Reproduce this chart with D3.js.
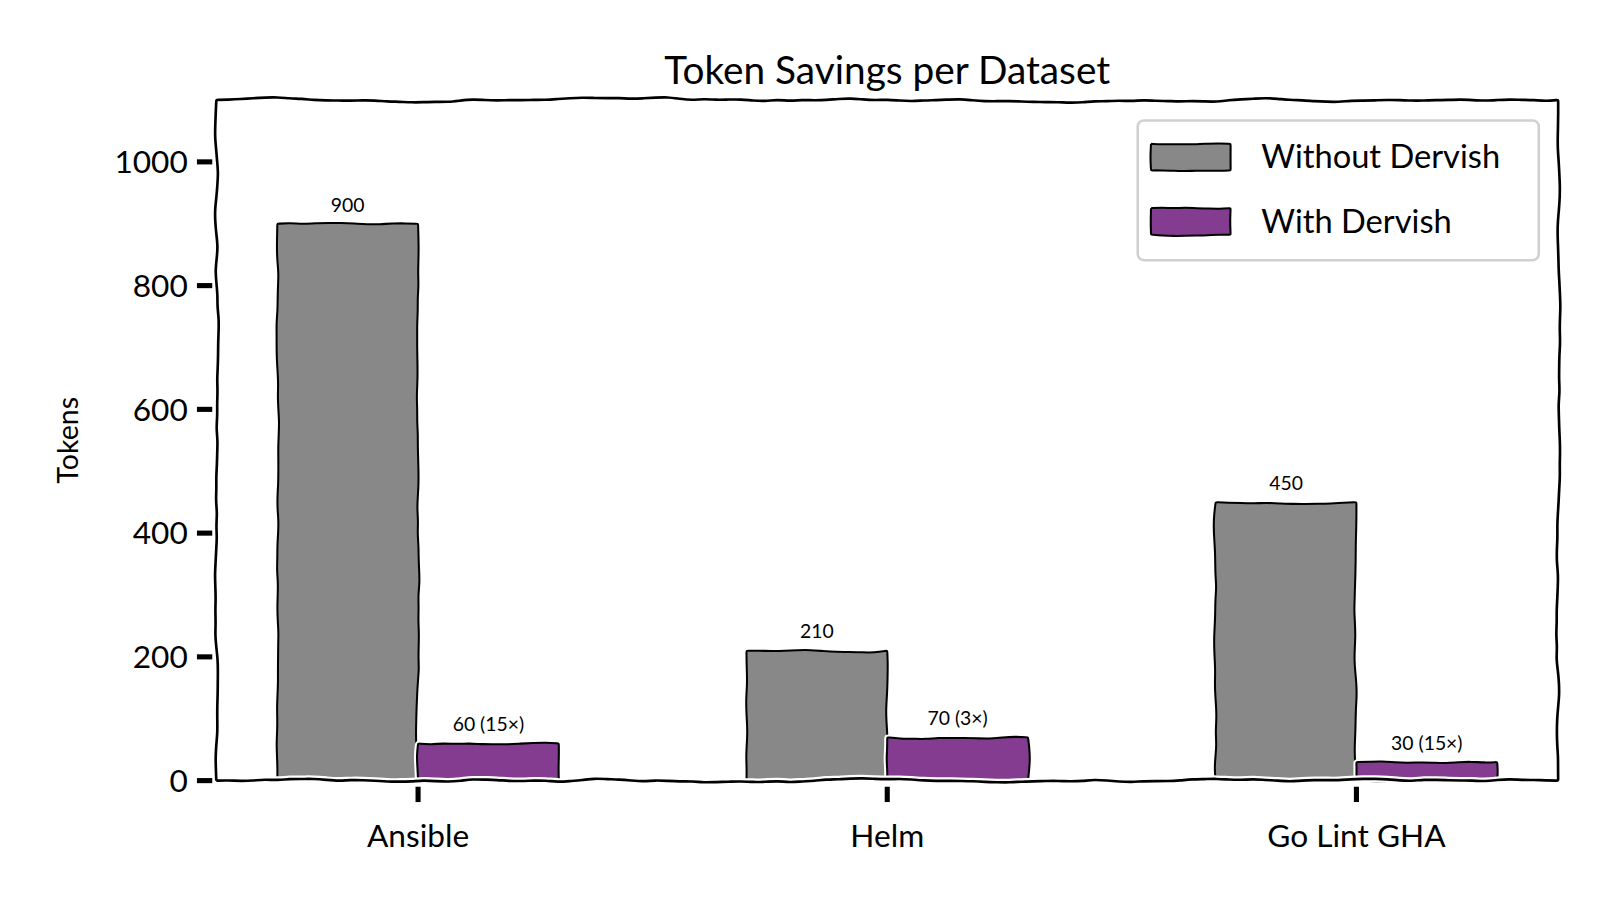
<!DOCTYPE html>
<html>
<head>
<meta charset="UTF-8">
<script src="https://cdnjs.cloudflare.com/ajax/libs/d3/7.9.0/d3.min.js"></script>
<style>
  body { margin: 0; background: #fff; }
  text { font-family: Lato, "Open Sans", sans-serif; fill: #000; }
</style>
</head>
<body>
<svg id="chart" width="1600" height="900"></svg>
<script>
// data
const categories = ["Ansible", "Helm", "Go Lint GHA"];
const without = [900, 210, 450];
const withD = [60, 70, 30];
const withLabels = ["60 (15×)", "70 (3×)", "30 (15×)"];
const yTicks = [0, 200, 400, 600, 800, 1000];
const seriesNames = ["Without Dervish", "With Dervish"];
const colors = ["#888888", "#843c91"];

// layout measured at 1568 wide, scaled up to 1600
const svg = d3.select("#chart").append("g").attr("transform", `scale(${1600 / 1568})`);
const pLeft = 212, pRight = 1527, pTop = 98, pBottom = 765;
const barW = 0.3;

const x = d3.scaleLinear().domain([-0.43, 2.43]).range([pLeft, pRight]);
const y = d3.scaleLinear().domain([0, 1100]).range([pBottom, pTop]);

// hand-drawn wobble
let seed = 7;
function rnd() { seed = (seed * 16807) % 2147483647; return seed / 2147483647 - 0.5; }
function wobbleLine(pts, amp) {
  const out = [];
  for (let i = 0; i < pts.length - 1; i++) {
    const [x0, y0] = pts[i], [x1, y1] = pts[i + 1];
    const len = Math.hypot(x1 - x0, y1 - y0);
    const n = Math.max(2, Math.round(len / 12));
    const nx = -(y1 - y0) / len, ny = (x1 - x0) / len;
    let off = 0;
    for (let k = 0; k <= n; k++) {
      const t = k / n;
      off = off * 0.7 + rnd() * amp;
      const o = (k === 0 || k === n) ? 0 : off;
      out.push([x0 + (x1 - x0) * t + nx * o, y0 + (y1 - y0) * t + ny * o]);
    }
  }
  return d3.line().curve(d3.curveBasis)(out);
}

// bars
function drawBar(x0, x1, v, fill) {
  const pts = [[x0, y(0)], [x0, y(v)], [x1, y(v)], [x1, y(0)], [x0, y(0)]];
  const d = wobbleLine(pts, 2);
  svg.append("path").attr("d", d).attr("fill", "none").attr("stroke", "#fff").attr("stroke-width", 6);
  svg.append("path").attr("d", d).attr("fill", fill).attr("stroke", "#000").attr("stroke-width", 2);
}
categories.forEach((c, i) => {
  drawBar(x(i - barW), x(i), without[i], colors[0]);
  drawBar(x(i), x(i + barW), withD[i], colors[1]);
  svg.append("text").attr("x", x(i - barW / 2)).attr("y", y(without[i]) - 12)
    .attr("text-anchor", "middle").attr("font-size", 19).text(without[i]);
  svg.append("text").attr("x", x(i + barW / 2)).attr("y", y(withD[i]) - 12)
    .attr("text-anchor", "middle").attr("font-size", 19).text(withLabels[i]);
});

// frame
const frame = wobbleLine([[pLeft, pBottom], [pLeft, pTop], [pRight, pTop], [pRight, pBottom], [pLeft, pBottom]], 2.5);
svg.append("path").attr("d", frame).attr("fill", "none").attr("stroke", "#fff").attr("stroke-width", 7);
svg.append("path").attr("d", frame).attr("fill", "none").attr("stroke", "#000").attr("stroke-width", 2.6);

// y ticks
yTicks.forEach(t => {
  svg.append("line").attr("x1", pLeft - 19).attr("x2", pLeft - 4).attr("y1", y(t)).attr("y2", y(t))
    .attr("stroke", "#000").attr("stroke-width", 5);
  svg.append("text").attr("x", pLeft - 28).attr("y", y(t) + 11).attr("text-anchor", "end")
    .attr("font-size", 31).text(t);
});
// x ticks
categories.forEach((c, i) => {
  svg.append("line").attr("x1", x(i)).attr("x2", x(i)).attr("y1", pBottom + 6).attr("y2", pBottom + 21)
    .attr("stroke", "#000").attr("stroke-width", 5);
  svg.append("text").attr("x", x(i)).attr("y", pBottom + 65).attr("text-anchor", "middle")
    .attr("font-size", 31).text(c);
});

// title and axis label
svg.append("text").attr("x", (pLeft + pRight) / 2).attr("y", 82).attr("text-anchor", "middle")
  .attr("font-size", 38).text("Token Savings per Dataset");
svg.append("text").attr("transform", `translate(76,${(pTop + pBottom) / 2}) rotate(-90)`)
  .attr("text-anchor", "middle").attr("font-size", 28).text("Tokens");

// legend
svg.append("rect").attr("x", 1115).attr("y", 118).attr("width", 393).attr("height", 137)
  .attr("rx", 6).attr("fill", "#fff").attr("stroke", "#d0d0d0").attr("stroke-width", 2.5);
seriesNames.forEach((s, i) => {
  const cy = 154 + i * 63;
  const d = wobbleLine([[1128, cy - 13], [1206, cy - 13], [1206, cy + 13], [1128, cy + 13], [1128, cy - 13]], 1.2);
  svg.append("path").attr("d", d).attr("fill", colors[i]).attr("stroke", "#000").attr("stroke-width", 2);
  svg.append("text").attr("x", 1236).attr("y", cy + 11).attr("font-size", 32).text(s);
});
</script>
</body>
</html>
